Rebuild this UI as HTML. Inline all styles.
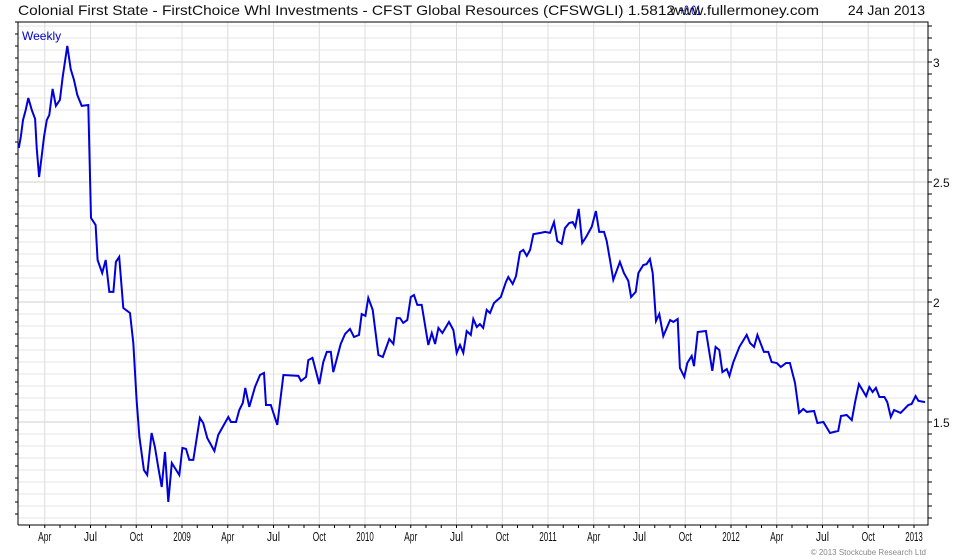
<!DOCTYPE html>
<html><head><meta charset="utf-8">
<style>
html,body{margin:0;padding:0;background:#fff;}
svg{display:block;font-family:"Liberation Sans",Arial,sans-serif;}
</style></head>
<body>
<svg id="chart" width="980" height="560" viewBox="0 0 980 560" xmlns="http://www.w3.org/2000/svg">
  <text x="18" y="15" font-size="14" fill="#111" textLength="657" lengthAdjust="spacingAndGlyphs">Colonial First State - FirstChoice Whl Investments - CFST Global Resources (CFSWGLI) 1.5812</text>
  <text x="679" y="15" font-size="14" fill="#0000cc" textLength="22" lengthAdjust="spacingAndGlyphs">+0.01</text>
  <text x="670" y="15" font-size="14" fill="#111" textLength="149" lengthAdjust="spacingAndGlyphs">www.fullermoney.com</text>
  <text x="925" y="15" font-size="14" fill="#111" text-anchor="end">24 Jan 2013</text>
  <g id="grid"></g>
  <g id="axes"></g>
  <text x="22" y="40" font-size="12" fill="#0000cc">Weekly</text>
  <g id="series"></g>
  <text x="926" y="555" font-size="8" fill="#888" text-anchor="end">© 2013 Stockcube Research Ltd</text>
</svg>
<script>
const dates = [2008.108,2008.119,2008.131,2008.146,2008.160,2008.179,2008.197,2008.206,2008.219,2008.233,2008.246,2008.261,2008.275,2008.293,2008.311,2008.333,2008.348,2008.373,2008.392,2008.410,2008.428,2008.452,2008.488,2008.493,2008.503,2008.528,2008.539,2008.564,2008.583,2008.603,2008.625,2008.639,2008.657,2008.679,2008.716,2008.734,2008.752,2008.767,2008.792,2008.810,2008.834,2008.852,2008.870,2008.889,2008.907,2008.925,2008.944,2008.985,2009.002,2009.022,2009.040,2009.062,2009.098,2009.116,2009.138,2009.177,2009.198,2009.253,2009.268,2009.295,2009.313,2009.332,2009.346,2009.368,2009.399,2009.426,2009.448,2009.459,2009.485,2009.521,2009.554,2009.636,2009.650,2009.678,2009.690,2009.713,2009.750,2009.772,2009.791,2009.813,2009.827,2009.867,2009.891,2009.918,2009.940,2009.967,2009.982,2010.002,2010.018,2010.042,2010.073,2010.097,2010.133,2010.155,2010.173,2010.191,2010.209,2010.231,2010.250,2010.268,2010.286,2010.310,2010.346,2010.365,2010.383,2010.401,2010.423,2010.459,2010.483,2010.501,2010.519,2010.537,2010.556,2010.578,2010.592,2010.611,2010.628,2010.646,2010.665,2010.683,2010.705,2010.742,2010.770,2010.783,2010.807,2010.825,2010.847,2010.865,2010.884,2010.902,2010.920,2010.960,2010.984,2011.011,2011.033,2011.051,2011.075,2011.093,2011.116,2011.135,2011.149,2011.168,2011.187,2011.208,2011.239,2011.262,2011.280,2011.306,2011.321,2011.339,2011.357,2011.393,2011.415,2011.439,2011.454,2011.479,2011.494,2011.521,2011.539,2011.557,2011.572,2011.590,2011.608,2011.630,2011.667,2011.685,2011.709,2011.721,2011.745,2011.761,2011.785,2011.798,2011.818,2011.863,2011.898,2011.916,2011.936,2011.953,2011.977,2011.991,2012.013,2012.046,2012.086,2012.104,2012.126,2012.144,2012.180,2012.204,2012.222,2012.250,2012.272,2012.301,2012.322,2012.350,2012.372,2012.395,2012.414,2012.454,2012.472,2012.505,2012.541,2012.586,2012.601,2012.632,2012.660,2012.678,2012.699,2012.738,2012.756,2012.774,2012.792,2012.811,2012.838,2012.854,2012.873,2012.891,2012.927,2012.969,2012.987,2013.009,2013.024,2013.060];
const prices = [2.642,2.688,2.758,2.800,2.850,2.800,2.763,2.642,2.521,2.604,2.688,2.758,2.779,2.888,2.817,2.842,2.938,3.067,2.971,2.925,2.863,2.817,2.821,2.663,2.350,2.321,2.175,2.121,2.175,2.042,2.042,2.167,2.188,1.975,1.954,1.829,1.592,1.438,1.300,1.279,1.454,1.396,1.313,1.229,1.375,1.167,1.329,1.279,1.392,1.388,1.342,1.342,1.517,1.496,1.433,1.379,1.446,1.521,1.500,1.500,1.550,1.579,1.642,1.563,1.646,1.696,1.704,1.571,1.571,1.488,1.696,1.692,1.671,1.688,1.758,1.767,1.658,1.750,1.792,1.792,1.708,1.825,1.867,1.888,1.854,1.863,1.950,1.942,2.017,1.967,1.779,1.771,1.846,1.825,1.933,1.933,1.913,1.925,2.021,2.029,1.988,1.988,1.821,1.871,1.825,1.892,1.871,1.917,1.883,1.788,1.821,1.788,1.879,1.863,1.929,1.896,1.908,1.892,1.967,1.954,1.996,2.021,2.083,2.104,2.075,2.108,2.208,2.217,2.192,2.217,2.283,2.288,2.292,2.288,2.333,2.254,2.242,2.308,2.329,2.333,2.313,2.388,2.246,2.271,2.313,2.379,2.292,2.292,2.254,2.175,2.092,2.167,2.121,2.088,2.021,2.042,2.121,2.154,2.158,2.179,2.121,1.921,1.950,1.858,1.925,1.917,1.929,1.725,1.688,1.746,1.775,1.733,1.875,1.879,1.713,1.813,1.800,1.708,1.721,1.692,1.750,1.813,1.863,1.829,1.813,1.863,1.792,1.792,1.750,1.746,1.729,1.746,1.746,1.663,1.538,1.554,1.542,1.546,1.496,1.500,1.454,1.463,1.525,1.529,1.508,1.583,1.658,1.608,1.646,1.625,1.642,1.604,1.604,1.583,1.521,1.550,1.538,1.571,1.575,1.608,1.588,1.583];
const yTickValues = [1.5, 2, 2.5, 3];
const yTickLabels = ["1.5", "2", "2.5", "3"];
const xTickDates = [2008.25,2008.5,2008.75,2009,2009.25,2009.5,2009.75,2010,2010.25,2010.5,2010.75,2011,2011.25,2011.5,2011.75,2012,2012.25,2012.5,2012.75,2013];
const xTickLabels = ["Apr","Jul","Oct","2009","Apr","Jul","Oct","2010","Apr","Jul","Oct","2011","Apr","Jul","Oct","2012","Apr","Jul","Oct","2013"];

const NS = "http://www.w3.org/2000/svg";
const L = 18, R = 928, T = 22, B = 525;
function xScale(t){ return 182 + (t - 2009) * 183; }
function yScale(v){ return 62 + (3 - v) * 240; }
function mk(tag, attrs, parent){
  const e = document.createElementNS(NS, tag);
  for (const k in attrs) e.setAttribute(k, attrs[k]);
  parent.appendChild(e);
  return e;
}
const grid = document.getElementById('grid');
const axes = document.getElementById('axes');
const series = document.getElementById('series');

for (let i = 22; i <= 63; i++) {
  const v = i * 0.05;
  const y = yScale(v);
  if (y < T || y > B) continue;
  const major = Math.abs(v * 2 - Math.round(v * 2)) < 1e-6;
  const g = mk('line', {x1: L, x2: R, y1: y, y2: y, stroke: major ? '#cfcfcf' : '#e6e6e6', 'stroke-width': 1}, grid);
  
  
  const tk = mk('line', {x1: R, x2: R + 4, y1: y, y2: y, stroke: '#000', 'stroke-width': 1}, axes);
  
  
}
xTickDates.forEach((t, i) => {
  const x = xScale(t);
  const g = mk('line', {x1: x, x2: x, y1: T, y2: B, stroke: '#dcdcdc', 'stroke-width': 1}, grid);
  
  
  const lb = mk('text', {x: x, y: 541, 'font-size': 13, fill: '#111', 'text-anchor': 'middle', textLength: xTickLabels[i].length * 4.4, lengthAdjust: 'spacingAndGlyphs'}, axes);
  lb.textContent = xTickLabels[i];
  
  
});
for (let m = 0; m < 62; m++) {
  const t = 2008 + m / 12;
  const x = xScale(t);
  if (x < L || x > R) continue;
  const tk = mk('line', {x1: x, x2: x, y1: B, y2: B + 3, stroke: '#000', 'stroke-width': 1}, axes);
  
  
}
yTickValues.forEach((v, i) => {
  const lb = mk('text', {x: R + 5, y: yScale(v) + 5, 'font-size': 12, fill: '#111'}, axes);
  lb.textContent = yTickLabels[i];
  
  
});
const fr = mk('path', {d: `M${L},${B} L${L},${T} L${R},${T} L${R},${B} L${L},${B}`, fill: 'none', stroke: '#000', 'stroke-width': 1}, axes);


for (let y = T; y <= B; y += 12) {
  const tk = mk('line', {x1: L - 3, x2: L, y1: y, y2: y, stroke: '#000', 'stroke-width': 1}, axes);
  
  
}
const pts = dates.map((t, i) => `${xScale(t).toFixed(1)},${yScale(prices[i]).toFixed(1)}`).join(' ');
const line = mk('polyline', {points: pts, fill: 'none', stroke: '#0000dd', 'stroke-width': 2, 'stroke-linejoin': 'miter'}, series);


</script>
</body></html>
